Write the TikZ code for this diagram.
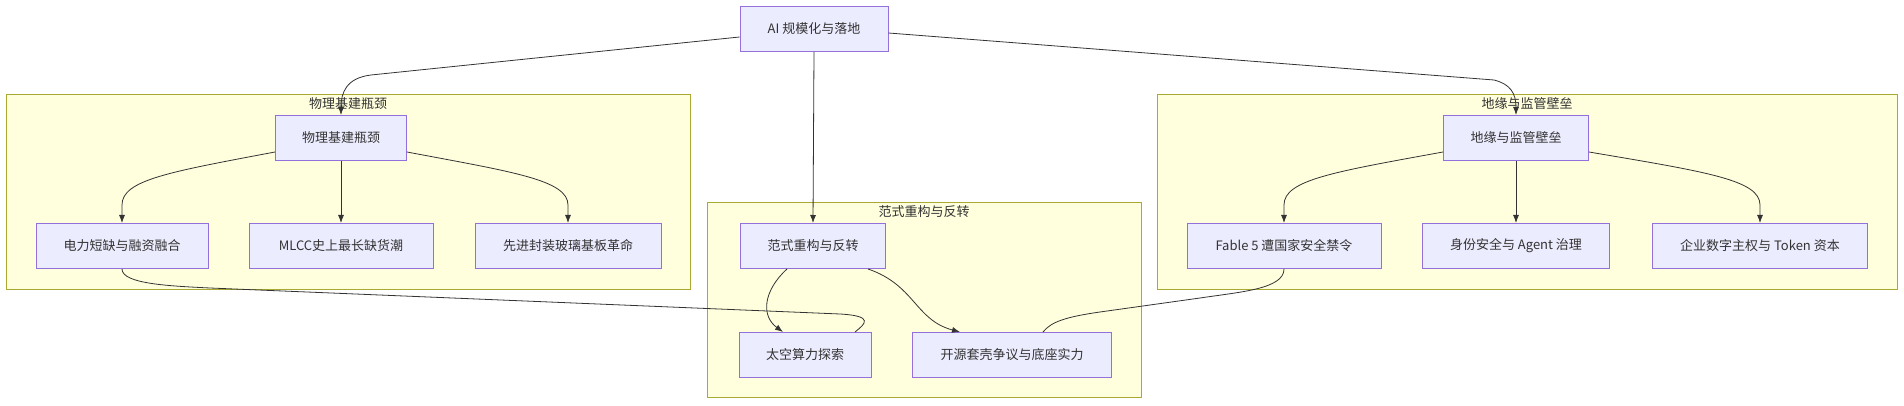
\documentclass[tikz,border=0pt]{standalone}
\usepackage{fontspec}
\setmainfont{Noto Sans CJK SC}
\usepackage{tikz}
\usetikzlibrary{arrows.meta,positioning}
\definecolor{boxfill}{HTML}{ECECFF}
\definecolor{boxline}{HTML}{9370DB}
\definecolor{grpfill}{HTML}{FFFFDE}
\definecolor{grpline}{HTML}{AAAA33}
\definecolor{edgecol}{HTML}{333333}
\tikzstyle{box}=[draw=boxline, fill=boxfill, minimum height=45pt, line width=1pt, text=edgecol]
\tikzstyle{grp}=[draw=grpline, fill=grpfill, line width=1pt, minimum height=194pt]
\tikzstyle{grptitle}=[text=edgecol, inner sep=0pt]
\tikzstyle{edge}=[draw=edgecol, line width=0.8pt]
\begin{document}
\begin{tikzpicture}[x=1pt,y=-1pt,node distance=2cm,auto,>={Latex[length=8pt,width=6pt]},font=\fontsize{13pt}{15pt}\selectfont]
\useasboundingbox (0,0) rectangle (1904,406);

% subgraphs
\node[grp, minimum width=684pt] at (348,192) (grpPhys) {};
\node[grp, minimum width=434pt] at (924,300) (grpPara) {};
\node[grp, minimum width=740pt] at (1527,192) (grpGeo) {};
\node[grptitle] at ([yshift=-9pt]grpPhys.north) (tPhys) {物理基建瓶颈};
\node[grptitle] at ([yshift=-9pt]grpPara.north) (tPara) {范式重构与反转};
\node[grptitle] at ([yshift=-9pt]grpGeo.north) (tGeo) {地缘与监管壁垒};

\node[box, minimum width=148pt] at (814,29) (top) {AI 规模化与落地};

% left group
\node[box, minimum width=131pt] at (341,138) (phys) {物理基建瓶颈};
\node[box, minimum width=172pt] at (122,246) (elec) {电力短缺与融资融合};
\node[box, minimum width=184pt, right of = elec, node distance = 219pt] (mlcc) {MLCC史上最长缺货潮};
\node[box, minimum width=186pt, right of = mlcc, node distance = 227pt] (adv) {先进封装玻璃基板革命};

% middle group
\node[box, minimum width=145pt] at (813,246) (para) {范式重构与反转};
\node[box, minimum width=132pt] at (805,355) (space) {太空算力探索};
\node[box, minimum width=199pt, right of = space, node distance = 207pt] (open) {开源套壳争议与底座实力};

% right group
\node[box, minimum width=145pt] at (1516,138) (geo) {地缘与监管壁垒};
\node[box, minimum width=194pt] at (1284,246) (fable) {Fable 5 遭国家安全禁令};
\node[box, minimum width=187pt, right of = fable, node distance = 232pt] (ident) {身份安全与 Agent 治理};
\node[box, minimum width=215pt, right of = ident, node distance = 244pt] (ent) {企业数字主权与 Token 资本};

% from the root
\draw[->,edge] ([yshift=-8pt]top.west) -- ([xshift=30pt,yshift=40pt]phys.north) .. controls +(-25pt,-3pt) and +(0,22pt) .. (phys.north);
\draw[->,edge] (top.south) -- (para.north);
\draw[->,edge] ([yshift=-4pt]top.east) -- ([xshift=-22pt,yshift=35pt]geo.north) .. controls +(16pt,-4pt) and +(0,22pt) .. (geo.north);

% inside the groups
\draw[->,edge] ([yshift=-14pt]phys.west) .. controls +(-106pt,-20pt) and +(0,25pt) .. ([yshift=18pt]elec.north) -- (elec.north);
\draw[->,edge] (phys.south) -- (mlcc.north);
\draw[->,edge] ([yshift=-14pt]phys.east) .. controls +(106pt,-20pt) and +(0,25pt) .. ([yshift=18pt]adv.north) -- (adv.north);

\draw[->,edge] ([xshift=-26pt]para.south) .. controls +(-24pt,-22pt) and +(-22pt,16pt) .. ([xshift=-22pt]space.north);
\draw[->,edge] ([xshift=55pt]para.south) .. controls +(47pt,-16pt) and +(-45pt,12pt) .. ([xshift=-52pt]open.north);

\draw[->,edge] ([yshift=-14pt]geo.west) .. controls +(-110pt,-20pt) and +(0,25pt) .. ([yshift=18pt]fable.north) -- (fable.north);
\draw[->,edge] (geo.south) -- (ident.north);
\draw[->,edge] ([yshift=-14pt]geo.east) .. controls +(118pt,-20pt) and +(0,25pt) .. ([yshift=18pt]ent.north) -- (ent.north);

% plain links
\draw[edge] (elec.south) .. controls +(0,-15pt) and +(-40pt,2pt) .. (210,288) -- (840,314) .. controls +(35pt,-2pt) and +(10pt,8pt) .. ([xshift=50pt]space.north);
\draw[edge] (fable.south) .. controls +(0,-20pt) and +(40pt,6pt) .. (1200,298) -- (1100,312) .. controls +(-35pt,-5pt) and +(8pt,10pt) .. ([xshift=31pt]open.north);
\end{tikzpicture}
\end{document}
